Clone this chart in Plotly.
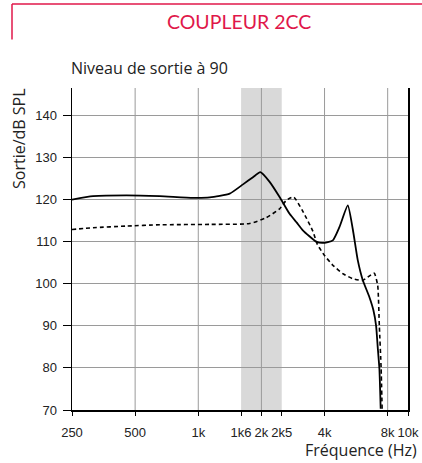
import plotly.graph_objects as go

# ---- data ----
solid_freq = [250, 315, 455, 656, 944, 1134, 1412, 1634, 1823, 1977, 2189, 2442, 2725, 2950, 3152,
              3650, 3926, 4380, 4715, 5163, 5453, 5760, 6083, 6548, 6841, 7046, 7170, 7305, 7408]
solid_db = [120.0, 120.8, 121.0, 120.8, 120.4, 120.5, 121.4, 123.6, 125.3, 126.5, 124.2, 120.6, 116.6, 114.5, 112.7,
            110.0, 109.7, 110.3, 113.5, 118.6, 113.0, 105.6, 100.9, 96.8, 93.7, 90.0, 85.0, 79.8, 70.3]

dash_freq = [250, 315, 455, 656, 1134, 1758, 2111, 2442, 2628, 2850, 3152, 3517, 3700, 4000, 4380,
             4888, 5453, 6083, 6788, 6915, 7170, 7300, 7443, 7527]
dash_db = [112.9, 113.3, 113.7, 114.0, 114.1, 114.3, 115.7, 117.8, 119.8, 120.6, 117.2, 112.5, 109.3, 106.7, 104.4,
           102.4, 101.2, 100.8, 102.4, 102.5, 99.6, 90.0, 80.0, 70.3]

tick_vals = [250, 500, 1000, 1600, 2000, 2500, 4000, 8000, 10000]
tick_text = ["250", "500", "1k", "1k6", "2k", "2k5", "4k", "8k", "10k"]
grid_freqs = [500, 1000, 2000, 4000, 8000]
band = [1600, 2500]
y_ticks = [70, 80, 90, 100, 110, 120, 130, 140]

title_text = "COUPLEUR 2CC"
subtitle_text = "Niveau de sortie à 90"
x_title = "Fréquence (Hz)"
y_title = "Sortie/dB SPL"

# ---- layout geometry ----
W, H = 422, 463
L, R, T, B = 72, 408, 88, 410
pw, ph = R - L, B - T


def px(x):
    return (x - L) / pw


def py(y):
    return (B - y) / ph


RED = "#e0174a"
TICKFONT = dict(family="Liberation Sans, Arial", size=13, color="#222")
TEXTFONT = "Open Sans, Liberation Sans, Arial, sans-serif"

fig = go.Figure()

fig.add_trace(go.Scatter(x=solid_freq, y=solid_db, mode="lines",
                         line=dict(color="black", width=1.8, shape="spline", smoothing=0.5),
                         showlegend=False, hoverinfo="skip"))
fig.add_trace(go.Scatter(x=dash_freq, y=dash_db, mode="lines",
                         line=dict(color="black", width=1.6, dash="4px,3px", shape="spline", smoothing=0.5),
                         showlegend=False, hoverinfo="skip"))

shapes = []
# shaded band
shapes.append(dict(type="rect", xref="x", yref="paper", x0=band[0], x1=band[1], y0=0, y1=1,
                   fillcolor="#d9d9d9", line=dict(width=0), layer="below"))
# vertical grid lines
for f in grid_freqs:
    shapes.append(dict(type="line", xref="x", yref="paper", x0=f, x1=f, y0=0, y1=1,
                       line=dict(color="#9a9a9a", width=1), layer="below"))
# red frame
shapes.append(dict(type="line", xref="paper", yref="paper", x0=px(12), x1=px(422), y0=py(4), y1=py(4),
                   line=dict(color=RED, width=1.5)))
shapes.append(dict(type="line", xref="paper", yref="paper", x0=px(12), x1=px(12), y0=py(4), y1=py(39.5),
                   line=dict(color=RED, width=1.5)))

annotations = [
    dict(text=title_text, xref="paper", yref="paper", x=px(238.5), y=py(21), xanchor="center", yanchor="middle",
         showarrow=False, font=dict(family="Lato, Noto Sans, sans-serif", size=19.5, color=RED)),
    dict(text=subtitle_text, xref="paper", yref="paper", x=px(69), y=py(68), xanchor="left", yanchor="middle",
         showarrow=False, font=dict(family=TEXTFONT, size=16, color="#222")),
    dict(text=x_title, xref="paper", yref="paper", x=px(419), y=py(450), xanchor="right", yanchor="middle",
         showarrow=False, font=dict(family=TEXTFONT, size=16, color="#222")),
    dict(text=y_title, xref="paper", yref="paper", x=px(19), y=py(139), xanchor="center", yanchor="middle",
         textangle=-90, showarrow=False, font=dict(family=TEXTFONT, size=16, color="#222")),
]

fig.update_layout(
    width=W, height=H,
    margin=dict(l=L, r=W - R, t=T, b=H - B, pad=0, autoexpand=False),
    paper_bgcolor="white", plot_bgcolor="white",
    shapes=shapes, annotations=annotations,
    showlegend=False,
)

fig.update_xaxes(type="log", range=[2.39794, 4.0], tickvals=tick_vals, ticktext=tick_text,
                 showgrid=False, zeroline=False, showline=True, linecolor="black", linewidth=1.5,
                 ticks="outside", ticklen=4, tickcolor="black", tickwidth=1, tickangle=0,
                 tickfont=TICKFONT, ticklabelstandoff=6, automargin=False)
fig.update_yaxes(range=[70, 146.5], tickvals=y_ticks, showgrid=True, gridcolor="#9a9a9a", gridwidth=1,
                 zeroline=False, showline=True, mirror=True, linecolor="black", linewidth=1.5,
                 ticks="outside", ticklen=8, tickcolor="black", tickwidth=1,
                 tickfont=TICKFONT, ticklabelstandoff=3, automargin=False)

fig.write_html("out.html", config={"displayModeBar": False, "staticPlot": True},
               post_script="document.body.style.margin='0';document.body.style.padding='0';")
